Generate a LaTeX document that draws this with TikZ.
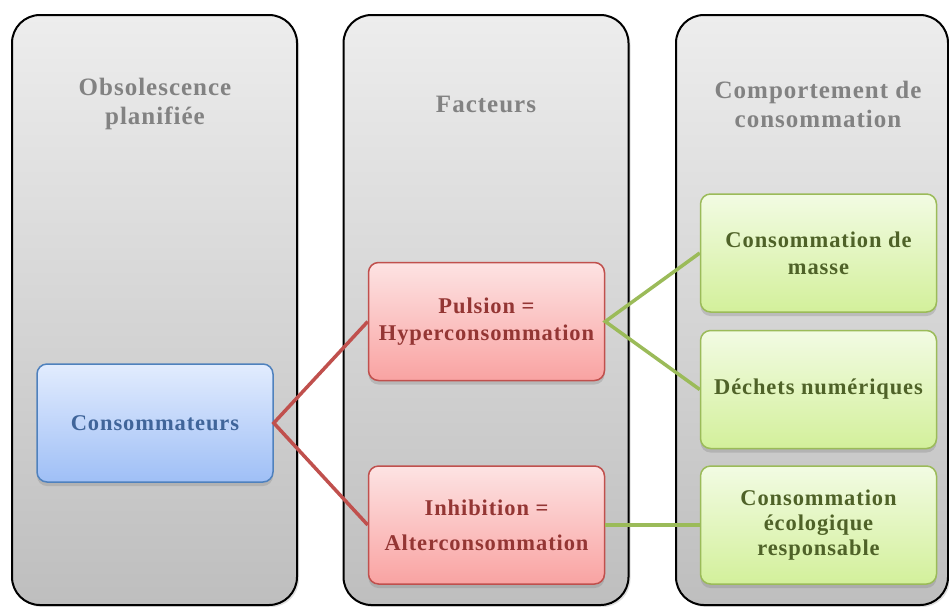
\documentclass[tikz,border=0pt]{standalone}
\usepackage{fontspec}
\setmainfont{Liberation Serif}[LetterSpace=4]
\usetikzlibrary{shadows}
\definecolor{colTop}{HTML}{EDEDED}
\definecolor{colBot}{HTML}{BEBEBE}
\definecolor{titleGray}{HTML}{828282}
\definecolor{blueTop}{HTML}{E2ECFE}
\definecolor{blueBot}{HTML}{9FBFF6}
\definecolor{blueLine}{HTML}{4F81BD}
\definecolor{blueText}{HTML}{40659A}
\definecolor{redTop}{HTML}{FDE3E3}
\definecolor{redBot}{HTML}{F9A3A2}
\definecolor{redLine}{HTML}{C0504D}
\definecolor{redText}{HTML}{943634}
\definecolor{greenTop}{HTML}{F2FBE3}
\definecolor{greenBot}{HTML}{D3F09B}
\definecolor{greenLine}{HTML}{9BBB59}
\definecolor{greenText}{HTML}{4F6228}
\tikzset{
  column/.style={draw=black, line width=2pt, rounded corners=28pt,
    top color=colTop, bottom color=colBot, minimum width=285pt, minimum height=590pt,
    drop shadow={opacity=0.25, shadow xshift=2pt, shadow yshift=-2pt}},
  coltitle/.style={text=titleGray, font=\bfseries\fontsize{25}{29}\selectfont, align=center},
  box/.style={rounded corners=10pt, line width=1.5pt, minimum width=236pt, minimum height=118pt,
    align=center, font=\bfseries\fontsize{22.5}{27}\selectfont,
    drop shadow={opacity=0.3, shadow xshift=0pt, shadow yshift=-4pt}},
  bluebox/.style={box, draw=blueLine, top color=blueTop, bottom color=blueBot, text=blueText},
  redbox/.style={box, draw=redLine, top color=redTop, bottom color=redBot, text=redText},
  greenbox/.style={box, draw=greenLine, top color=greenTop, bottom color=greenBot, text=greenText},
  redlink/.style={draw=redLine, line width=3.5pt},
  greenlink/.style={draw=greenLine, line width=3.5pt},
}
\begin{document}
\begin{tikzpicture}[x=1pt,y=1pt]
\useasboundingbox (0,0) rectangle (949,-606);
\node[column] (col1) at (154.5,-310) {};
\node[column] (col2) at (486,-310) {};
\node[column, minimum width=272pt] (col3) at (812,-310) {};
\node[coltitle] (t1) at (155,-104) {Obsolescence\\planifiée};
\node[coltitle] (t2) at (486,-104) {Facteurs};
\node[coltitle] (t3) at (818,-104) {Comportement de\\consommation};

\node[bluebox] (cons) at (155,-423) {Consommateurs};
\node[redbox] (puls) at (486.5,-321.5) {Pulsion =\\Hyperconsommation};
\node[redbox, font=\bfseries\fontsize{22.5}{35}\selectfont] (inhi) at (486.5,-525) {Inhibition =\\Alterconsommation};
\node[greenbox] (masse) at (818.5,-253) {Consommation de\\masse};
\node[greenbox] (dech) at (818.5,-389.5) {Déchets numériques};
\node[greenbox, font=\bfseries\fontsize{22.5}{25}\selectfont] (eco) at (818.5,-525) {Consommation\\écologique\\responsable};

\draw[redlink] (puls.west) -- (cons.east) -- (inhi.west);
\draw[greenlink] (masse.west) -- (puls.east) -- (dech.west);
\draw[greenlink] (inhi.east) -- (eco.west);
\end{tikzpicture}
\end{document}
